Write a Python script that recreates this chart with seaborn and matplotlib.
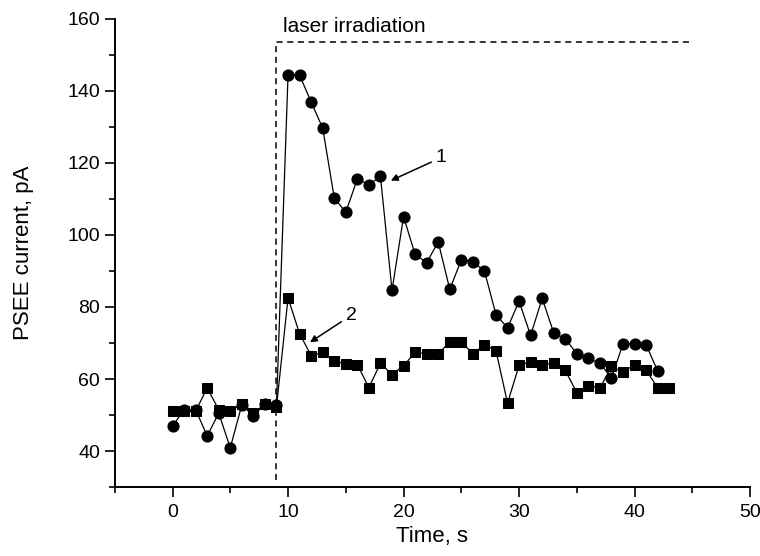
import numpy as np
import pandas as pd
import matplotlib
matplotlib.use('Agg')
import matplotlib.pyplot as plt
import seaborn as sns
from matplotlib.ticker import MultipleLocator

sns.set_style('ticks', {'axes.edgecolor': 'black', 'text.color': 'black',
                        'axes.labelcolor': 'black', 'xtick.color': 'black',
                        'ytick.color': 'black'})
plt.rcParams['font.family'] = ['Liberation Sans', 'DejaVu Sans']

# curve 1 (circles), one point per second
t_circ = list(range(0, 43))
circ = [46.9, 51.5, 51.5, 44.2, 50.5, 40.9, 52.8, 49.8, 53.0, 52.8,
        144.4, 144.4, 136.9, 129.7, 110.3, 106.3, 115.6, 113.9, 116.3, 84.6,
        105.1, 94.6, 92.3, 98.1, 84.9, 93.1, 92.6, 90.0, 77.9, 74.2,
        81.6, 72.1, 82.4, 72.8, 71.2, 67.0, 65.7, 64.4, 60.3, 69.8,
        69.8, 69.5, 62.2]

# curve 2 (squares)
t_sq = list(range(0, 44))
sq = [51.1, 51.1, 51.1, 57.5, 51.5, 51.1, 53.0, 50.5, 53.1, 52.3,
      82.5, 72.6, 66.5, 67.4, 65.1, 64.1, 64.0, 57.6, 64.4, 61.2,
      63.7, 67.4, 67.0, 67.0, 70.3, 70.3, 67.0, 69.5, 67.9, 53.3,
      63.8, 64.8, 63.9, 64.5, 62.4, 56.2, 58.2, 57.5, 63.5, 61.9,
      64.0, 62.4, 57.6, 57.6]

laser_on = 9
laser_off = 45
laser_level = 153.5

df1 = pd.DataFrame({'t': t_circ, 'I': circ})
df2 = pd.DataFrame({'t': t_sq, 'I': sq})

fig = plt.figure(figsize=(7.6, 5.56), dpi=100)
ax = fig.add_axes([0.151, 0.124, 0.836, 0.842])

sns.lineplot(data=df2, x='t', y='I', ax=ax, color='black', linewidth=0.9,
             marker='s', markersize=7.5, markeredgecolor='black')
sns.lineplot(data=df1, x='t', y='I', ax=ax, color='black', linewidth=0.9,
             marker='o', markersize=8, markeredgecolor='black')

# laser irradiation window
ax.plot([laser_on, laser_on, laser_off], [32, laser_level, laser_level],
        color='black', linewidth=1.1, linestyle=(0, (4, 3)))
ax.text(laser_on + 0.6, laser_level + 1.8, 'laser irradiation', fontsize=15,
        ha='left', va='bottom', color='black')

arrow = dict(arrowstyle='-|>', color='black', lw=1.1, mutation_scale=10,
             shrinkA=1, shrinkB=0)
ax.annotate('1', xy=(18.9, 115.1), xytext=(22.8, 121.5), fontsize=14,
            ha='left', va='center', color='black', arrowprops=arrow)
ax.annotate('2', xy=(11.9, 70.2), xytext=(15.0, 77.7), fontsize=14,
            ha='left', va='center', color='black', arrowprops=arrow)

ax.set_xlim(-5, 50)
ax.set_ylim(30, 160)
ax.xaxis.set_major_locator(MultipleLocator(10))
ax.xaxis.set_minor_locator(MultipleLocator(5))
ax.yaxis.set_major_locator(MultipleLocator(20))
ax.yaxis.set_minor_locator(MultipleLocator(10))
ax.tick_params(which='major', length=7, width=1.2, labelsize=14, direction='out')
ax.tick_params(axis='x', which='major', pad=5)
ax.tick_params(which='minor', length=4, width=1.2, direction='out')
for s in ['top', 'right']:
    ax.spines[s].set_visible(False)
for s in ['left', 'bottom']:
    ax.spines[s].set_linewidth(1.4)

ax.set_xlabel('Time, s', fontsize=16, labelpad=4)
ax.set_ylabel('PSEE current, pA', fontsize=16, labelpad=24)

fig.savefig('out.png', dpi=100)
